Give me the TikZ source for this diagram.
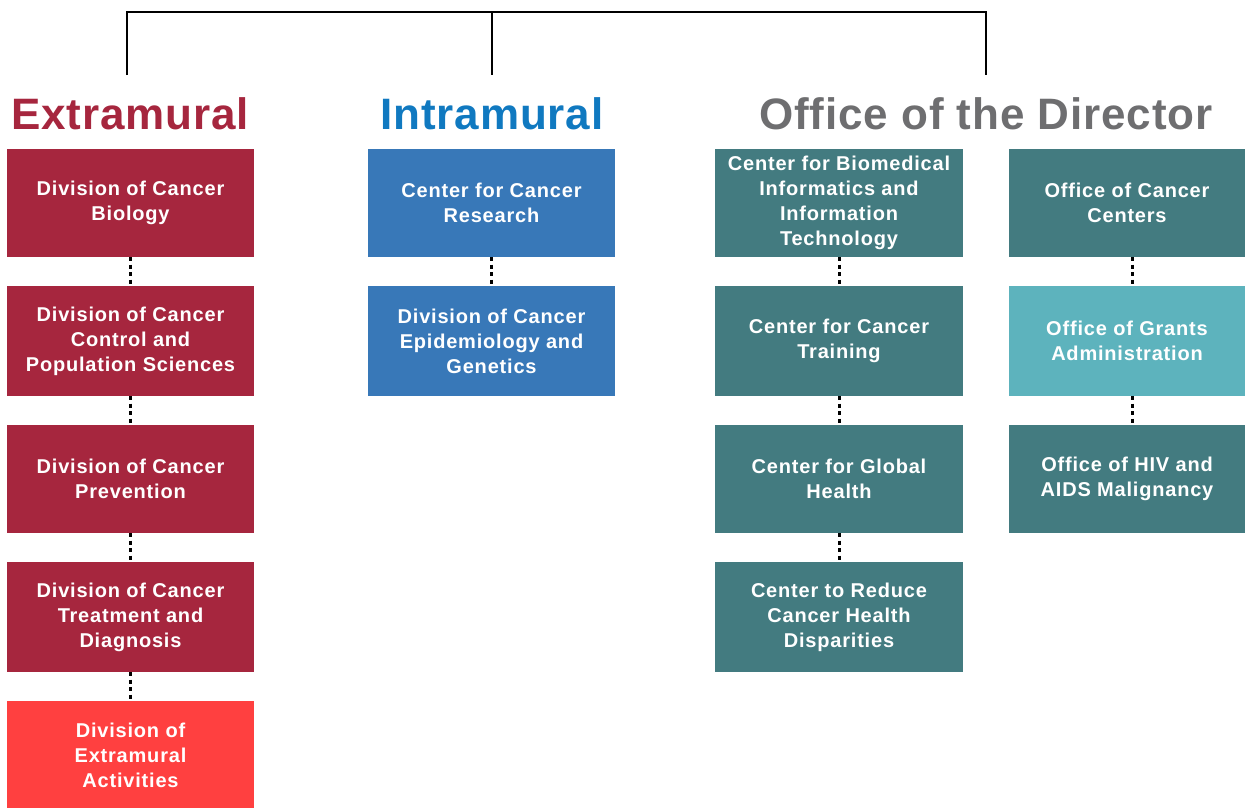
\documentclass[tikz,border=0pt]{standalone}
\usepackage{fontspec}
\setmainfont{Liberation Sans}
\newfontfamily\boxfont[LetterSpace=4]{Liberation Sans}
\newfontfamily\headfont[LetterSpace=2]{Liberation Sans}
\definecolor{crim}{HTML}{A6263E}
\definecolor{brightred}{HTML}{FF4040}
\definecolor{blu}{HTML}{3878B8}
\definecolor{headblue}{HTML}{1079C0}
\definecolor{teal}{HTML}{437B80}
\definecolor{lteal}{HTML}{5DB3BD}
\definecolor{headgrey}{HTML}{6E6E70}
\begin{document}
\begin{tikzpicture}[x=1pt,y=-1pt,
  unit/.style={minimum width=247pt,minimum height=108pt,inner sep=0pt,outer sep=0pt,
    text=white,align=center,font=\boxfont\bfseries\fontsize{20}{25}\selectfont},
  head/.style={inner sep=0pt,font=\headfont\bfseries\fontsize{44}{50}\selectfont},
  dots/.style={line width=3pt,dash pattern=on 4pt off 3.5pt,black},
  bracket/.style={line width=2.6pt,black}]
\useasboundingbox (0,0) rectangle (1245,807);
% bracket
\coordinate (bl) at (127,12);
\coordinate (bm) at (492,12);
\coordinate (br) at (986,12);
\coordinate (ll) at (127,75);
\coordinate (lm) at (492,75);
\coordinate (lr) at (986,75);
\draw[bracket] (ll) -- (bl) -- (br) -- (lr);
\draw[bracket] (bm) -- (lm);
% headers
\node[head,text=crim] (hext) at (130,114) {Extramural};
\node[head,text=headblue] (hint) at (492,114) {Intramural};
\node[head,text=headgrey] (hod) at (986,114) {Office of the Director};
% column 1
\node[unit,fill=crim] (e1) at (130.5,203) {Division of Cancer\\Biology};
\node[unit,fill=crim,minimum height=110pt] (e2) at (130.5,341) {Division of Cancer\\Control and\\Population Sciences};
\node[unit,fill=crim] (e3) at (130.5,479) {Division of Cancer\\Prevention};
\node[unit,fill=crim,minimum height=110pt] (e4) at (130.5,617) {Division of Cancer\\Treatment and\\Diagnosis};
\node[unit,fill=brightred] (e5) at (130.5,755) {Division of\\Extramural\\Activities};
% column 2
\node[unit,fill=blu] (i1) at (491.5,203) {Center for Cancer\\Research};
\node[unit,fill=blu,minimum height=110pt] (i2) at (491.5,341) {Division of Cancer\\Epidemiology and\\Genetics};
% column 3
\node[unit,fill=teal,minimum width=248pt] (d1) at (839,203) {Center for Biomedical\\Informatics and\\Information\\Technology};
\node[unit,fill=teal,minimum width=248pt,minimum height=110pt] (d2) at (839,341) {Center for Cancer\\Training};
\node[unit,fill=teal,minimum width=248pt] (d3) at (839,479) {Center for Global\\Health};
\node[unit,fill=teal,minimum width=248pt,minimum height=110pt] (d4) at (839,617) {Center to Reduce\\Cancer Health\\Disparities};
% column 4
\node[unit,fill=teal,minimum width=236pt] (o1) at (1127,203) {Office of Cancer\\Centers};
\node[unit,fill=lteal,minimum width=236pt,minimum height=110pt] (o2) at (1127,341) {Office of Grants\\Administration};
\node[unit,fill=teal,minimum width=236pt] (o3) at (1127,479) {Office of HIV and\\AIDS Malignancy};
% dotted connectors
\draw[dots] (e1.south) -- (e2.north);
\draw[dots] (e2.south) -- (e3.north);
\draw[dots] (e3.south) -- (e4.north);
\draw[dots] (e4.south) -- (e5.north);
\draw[dots] (i1.south) -- (i2.north);
\draw[dots] (d1.south) -- (d2.north);
\draw[dots] (d2.south) -- (d3.north);
\draw[dots] (d3.south) -- (d4.north);
\draw[dots] ([xshift=5pt]o1.south) -- ([xshift=5pt]o2.north);
\draw[dots] ([xshift=5pt]o2.south) -- ([xshift=5pt]o3.north);
\end{tikzpicture}
\end{document}
